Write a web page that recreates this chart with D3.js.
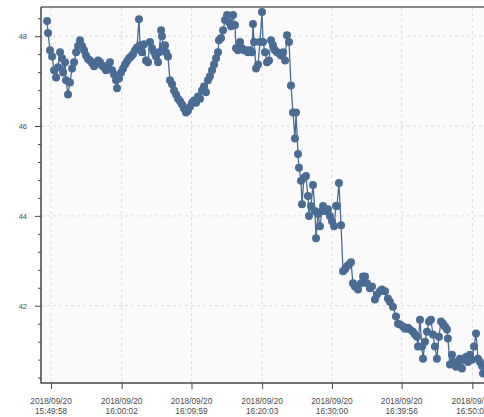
<!DOCTYPE html>
<html>
<head>
<meta charset="utf-8">
<script src="https://cdn.jsdelivr.net/npm/d3@7"></script>
<style>
  body { margin: 0; background: #fff; }
  svg { display: block; font-family: "Liberation Sans", Arial, sans-serif; }
  .grid line { stroke: #dcdcdc; stroke-dasharray: 3,3; }
  .tick-label { fill: #4a4a4a; }
</style>
</head>
<body>
<div id="chart"></div>
<script>
// seconds after 2018/09/20 15:49:58
const offsets = [
  -34, -26, -9, 9, 26, 43, 60, 77, 94, 103, 120, 128, 145, 162, 180, 197, 214, 231, 248, 265,
  282, 299, 316, 333, 351, 368, 385, 402, 419, 436, 453, 470, 487, 504, 522, 539, 556, 564, 581, 599,
  616, 633, 650, 667, 684, 701, 718, 735, 752, 761, 778, 795, 812, 829, 846, 864, 881, 898, 915, 923,
  941, 949, 958, 975, 983, 1000, 1017, 1035, 1052, 1069, 1086, 1103, 1120, 1137, 1154, 1171, 1188, 1206, 1223, 1240,
  1257, 1274, 1291, 1308, 1325, 1342, 1359, 1377, 1394, 1411, 1428, 1436, 1454, 1471, 1488, 1505, 1522, 1539, 1556, 1573,
  1582, 1599, 1616, 1633, 1650, 1667, 1684, 1701, 1719, 1727, 1736, 1753, 1770, 1787, 1804, 1813, 1830, 1847, 1864, 1881,
  1898, 1915, 1932, 1949, 1967, 1984, 2001, 2018, 2035, 2052, 2069, 2086, 2095, 2112, 2120, 2138, 2146, 2163, 2180, 2197,
  2206, 2223, 2240, 2257, 2266, 2283, 2300, 2317, 2326, 2343, 2368, 2385, 2403, 2420, 2437, 2445, 2462, 2480, 2497, 2514,
  2531, 2548, 2565, 2582, 2599, 2625, 2651, 2668, 2685, 2702, 2727, 2745, 2770, 2787, 2813, 2830, 2856, 2881, 2898, 2924,
  2950, 2967, 2984, 3010, 3027, 3052, 3069, 3095, 3112, 3129, 3138, 3155, 3172, 3181, 3198, 3215, 3232, 3249, 3266, 3283,
  3300, 3317, 3335, 3352, 3369, 3386, 3394, 3411, 3429, 3446, 3463, 3480, 3497, 3514, 3531, 3548, 3566, 3583, 3600, 3617,
  3634, 3651, 3668, 3686, 3694
];

const values = [
  48.34, 48.07, 47.69, 47.55, 47.24, 47.08, 47.31, 47.64, 47.51, 47.19, 47.42, 47.02, 46.70, 46.97, 47.28, 47.42, 47.64, 47.78, 47.91, 47.78,
  47.69, 47.57, 47.49, 47.46, 47.40, 47.33, 47.40, 47.46, 47.42, 47.35, 47.31, 47.24, 47.35, 47.42, 47.24, 47.15, 47.02, 46.84, 47.06, 47.19,
  47.28, 47.37, 47.44, 47.51, 47.55, 47.60, 47.69, 47.75, 48.38, 47.80, 47.64, 47.82, 47.46, 47.42, 47.87, 47.73, 47.64, 47.55, 47.42, 47.64,
  48.13, 48.00, 47.78, 47.80, 47.64, 47.55, 47.02, 46.93, 46.79, 46.70, 46.61, 46.55, 46.48, 46.39, 46.30, 46.34, 46.43, 46.52, 46.57, 46.52,
  46.66, 46.61, 46.79, 46.88, 46.75, 47.02, 47.11, 47.24, 47.37, 47.51, 47.64, 47.91, 47.96, 48.13, 48.36, 48.47, 48.31, 48.22, 48.47, 48.25,
  47.73, 47.69, 47.87, 47.73, 47.69, 47.69, 47.64, 47.69, 47.64, 48.27, 47.87, 47.28, 47.37, 47.87, 48.54, 47.87, 47.64, 47.42, 47.46, 47.91,
  47.80, 47.69, 47.64, 47.62, 47.57, 47.64, 47.46, 48.02, 47.87, 46.90, 46.30, 45.72, 46.30, 45.38, 45.07, 44.78, 44.26, 44.85, 44.89, 44.44,
  44.00, 44.22, 44.69, 44.11, 43.50, 44.04, 43.77, 44.11, 44.22, 44.11, 44.15, 44.00, 43.88, 43.77, 44.22, 44.22, 44.73, 43.79, 42.77, 42.81,
  42.88, 42.92, 42.97, 42.50, 42.43, 42.36, 42.50, 42.65, 42.65, 42.50, 42.39, 42.43, 42.14, 42.25, 42.32, 42.36, 42.32, 42.16, 42.09, 41.98,
  41.76, 41.60, 41.58, 41.54, 41.49, 41.51, 41.47, 41.42, 41.36, 41.31, 41.09, 41.69, 41.09, 40.82, 41.20, 41.42, 41.65, 41.69, 41.36, 41.09,
  40.82, 41.31, 41.65, 41.60, 41.54, 41.47, 41.27, 40.69, 40.91, 40.75, 40.64, 40.71, 40.82, 40.60, 40.80, 40.86, 40.75, 40.91, 40.80, 41.09,
  41.38, 40.82, 40.75, 40.66, 40.49
];

const xTickTimes = ["15:49:58", "16:00:02", "16:09:59", "16:20:03", "16:30:00", "16:39:56", "16:50:01"];
const xTickDate = "2018/09/20";
const yMajorTicks = [42, 44, 46, 48];
const yMinorTicks = [40.4, 40.8, 41.2, 41.6, 42.4, 42.8, 43.2, 43.6, 44.4, 44.8, 45.2, 45.6, 46.4, 46.8, 47.2, 47.6, 48.4];

const width = 484, height = 417;
const margin = { top: 7, right: -8, bottom: 34, left: 41 };
const color = "#4a6c94";

const parse = d3.timeParse("%Y/%m/%d %H:%M:%S");
const t0 = parse(`${xTickDate} ${xTickTimes[0]}`);
const data = offsets.map((s, i) => ({ t: new Date(+t0 + s * 1000), v: values[i] }));

const x = d3.scaleTime()
  .domain([new Date(+t0 - 86 * 1000), new Date(+t0 + 3771 * 1000)])
  .range([margin.left, width - margin.right]);

const y = d3.scaleLinear()
  .domain([40.28, 48.65])
  .range([height - margin.bottom, margin.top]);

const svg = d3.select("#chart").append("svg")
  .attr("width", width)
  .attr("height", height);

svg.append("rect")
  .attr("x", margin.left)
  .attr("y", margin.top)
  .attr("width", width - margin.right - margin.left)
  .attr("height", height - margin.bottom - margin.top)
  .attr("fill", "#fafafa");

const xTicks = xTickTimes.map((s) => parse(`${xTickDate} ${s}`));

// grid
const grid = svg.append("g").attr("class", "grid");
grid.selectAll(".gx")
  .data(xTicks)
  .join("line")
  .attr("x1", (d) => x(d)).attr("x2", (d) => x(d))
  .attr("y1", margin.top).attr("y2", height - margin.bottom);
grid.selectAll(".gy")
  .data(yMajorTicks)
  .join("line")
  .attr("x1", margin.left).attr("x2", width)
  .attr("y1", (d) => y(d)).attr("y2", (d) => y(d));

// series
svg.append("clipPath").attr("id", "clip")
  .append("rect")
  .attr("x", margin.left).attr("y", margin.top - 6)
  .attr("width", width).attr("height", height - margin.bottom - margin.top + 6);

const gData = svg.append("g").attr("clip-path", "url(#clip)");
gData.append("path")
  .datum(data)
  .attr("fill", "none")
  .attr("stroke", color)
  .attr("stroke-width", 1.3)
  .attr("d", d3.line().x((d) => x(d.t)).y((d) => y(d.v)));
gData.selectAll("circle")
  .data(data)
  .join("circle")
  .attr("cx", (d) => x(d.t))
  .attr("cy", (d) => y(d.v))
  .attr("r", 4)
  .attr("fill", color);

// frame
svg.append("line")
  .attr("x1", margin.left).attr("x2", width)
  .attr("y1", margin.top).attr("y2", margin.top)
  .attr("stroke", "#8a8a8a").attr("stroke-width", 2);

// y axis
const gy = svg.append("g").attr("transform", `translate(${margin.left},0)`);
gy.append("g")
  .call(d3.axisLeft(y).tickValues(yMajorTicks).tickSize(6).tickPadding(8).tickFormat(d3.format("d")))
  .call((g) => g.select(".domain").remove())
  .call((g) => g.selectAll("line").attr("stroke", "#444"))
  .call((g) => g.selectAll("text").attr("class", "tick-label").style("font-size", "7.5px"));
gy.append("g")
  .call(d3.axisLeft(y).tickValues(yMinorTicks).tickSize(3).tickFormat(""))
  .call((g) => g.select(".domain").remove())
  .call((g) => g.selectAll("line").attr("stroke", "#444"));
gy.append("line")
  .attr("y1", margin.top).attr("y2", height - margin.bottom + 0.5)
  .attr("stroke", "#444").attr("stroke-width", 1.5);

// x axis
const gx = svg.append("g").attr("transform", `translate(0,${height - margin.bottom})`);
gx.call(d3.axisBottom(x).tickValues(xTicks).tickSize(6).tickFormat(""))
  .call((g) => g.select(".domain").remove())
  .call((g) => g.selectAll("line").attr("stroke", "#444"));
gx.append("line")
  .attr("x1", margin.left).attr("x2", width)
  .attr("stroke", "#444").attr("stroke-width", 1.5);

const labels = gx.selectAll(".xl")
  .data(xTickTimes)
  .join("text")
  .attr("class", "tick-label")
  .attr("text-anchor", "middle")
  .style("font-size", "8.3px")
  .attr("transform", (d, i) => `translate(${x(xTicks[i])},0)`);
labels.append("tspan").attr("x", 0).attr("y", 20.5).text(xTickDate);
labels.append("tspan").attr("x", 0).attr("y", 30.5).text((d) => d);
</script>
</body>
</html>
